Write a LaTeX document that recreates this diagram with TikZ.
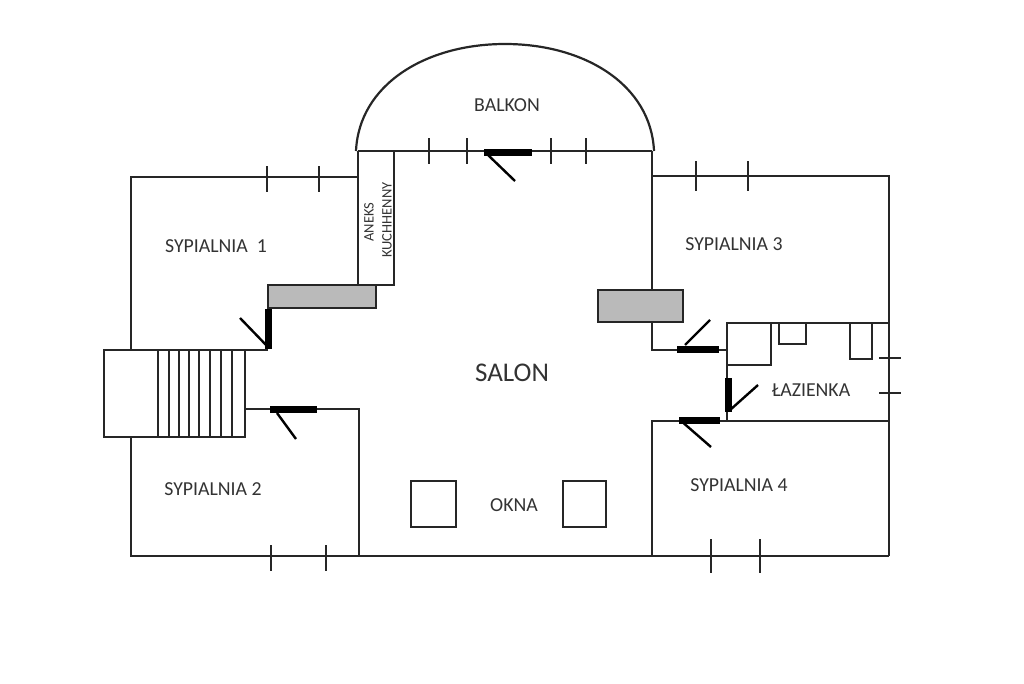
\documentclass[tikz,border=0pt]{standalone}
\usepackage{fontspec}
\setmainfont{Carlito}
\tikzset{
    wall/.style={line width=2.2pt,black!85},
    tick/.style={line width=1.8pt,black!85},
    doorpanel/.style={line width=7pt,black},
    doorleaf/.style={line width=2.4pt,black},
    roomlabel/.style={font=\fontsize{19.8}{22}\selectfont,text=black!80,inner sep=0pt},
}
\begin{document}
\begin{tikzpicture}[x=1pt,y=-1pt]
        \useasboundingbox (0,0) rectangle (1024,683);
        %balcony
        \draw[wall] (356,151) .. controls (359,85) and (425,44) .. (505,44) .. controls (585,44) and (651,85) .. (654,151);
        \draw[wall] (358,151) -- (652,151);
        \foreach \x in {429,467,551,586} \draw[tick] (\x,138) -- (\x,164);
        %bedroom 1 and kitchenette
        \draw[wall] (131,349) -- (131,177) -- (358,177);
        \foreach \x in {267,319} \draw[tick] (\x,166) -- (\x,192);
        \draw[wall] (358,151) -- (358,285);
        \draw[wall] (394,151) -- (394,285) -- (358,285);
        \draw[wall,fill=black!27] (268,285) rectangle (376,308);
        \draw[wall] (104,350) -- (268,350);
        %stairs
        \draw[wall] (104,350) rectangle (245,437);
        \foreach \x in {158,169,179,189,199,210,221,232} \draw[tick] (\x,350) -- (\x,437);
        %bedroom 2
        \draw[wall] (245,409) -- (359,409) -- (359,556);
        \draw[wall] (131,437) -- (131,556) -- (889,556);
        \foreach \x in {271,326} \draw[tick] (\x,545) -- (\x,571);
        %right side
        \draw[wall] (652,151) -- (652,350) -- (727,350);
        \draw[wall,fill=black!27] (598,290) rectangle (683,322);
        \draw[wall] (652,176) -- (889,176) -- (889,556);
        \foreach \x in {696,748} \draw[tick] (\x,161) -- (\x,191);
        \draw[wall] (652,556) -- (652,421) -- (889,421);
        \foreach \x in {711,760} \draw[tick] (\x,539) -- (\x,573);
        %bathroom
        \draw[wall] (727,421) -- (727,323) -- (889,323);
        \draw[wall] (727,323) rectangle (771,365);
        \draw[wall] (779,323) rectangle (806,344);
        \draw[wall] (850,323) rectangle (872,359);
        \foreach \y in {358,393} \draw[tick] (879,\y) -- (901,\y);
        %skylights
        \draw[wall] (411,481) rectangle (456,527);
        \draw[wall] (563,481) rectangle (606,527);
        %doors
        \draw[doorpanel] (484,152) -- (532,152);
        \draw[doorleaf] (488,155) -- (515,181);
        \draw[doorpanel] (268,309) -- (268,349);
        \draw[doorleaf] (240,318) -- (268,347);
        \draw[doorpanel] (270,409) -- (317,409);
        \draw[doorleaf] (277,413) -- (296,439);
        \draw[doorpanel] (677,349) -- (719,349);
        \draw[doorleaf] (685,345) -- (710,320);
        \draw[doorpanel] (679,420) -- (720,420);
        \draw[doorleaf] (680,420) -- (711,447);
        \draw[doorpanel] (728,378) -- (728,412);
        \draw[doorleaf] (730,410) -- (758,385);
        %labels
        \node[roomlabel] (balkon) at (507,105) {BALKON};
        \node[roomlabel] (sypialniaA) at (216,246) {SYPIALNIA\ \ 1};
        \node[roomlabel] (sypialniaB) at (213,489) {SYPIALNIA 2};
        \node[roomlabel] (sypialniaC) at (734,244) {SYPIALNIA 3};
        \node[roomlabel] (sypialniaD) at (739,485) {SYPIALNIA 4};
        \node[roomlabel] (lazienka) at (811,390) {ŁAZIENKA};
        \node[roomlabel] (okna) at (514,505) {OKNA};
        \node[roomlabel,font=\fontsize{27}{30}\selectfont] (salon) at (512,373) {SALON};
        \node[roomlabel,font=\fontsize{14.5}{16}\selectfont,rotate=90] (aneks) at (369,222) {ANEKS};
        \node[roomlabel,font=\fontsize{14.5}{16}\selectfont,rotate=90] (kuchnia) at (387,220) {KUCHHENNY};
    \end{tikzpicture}
\end{document}
